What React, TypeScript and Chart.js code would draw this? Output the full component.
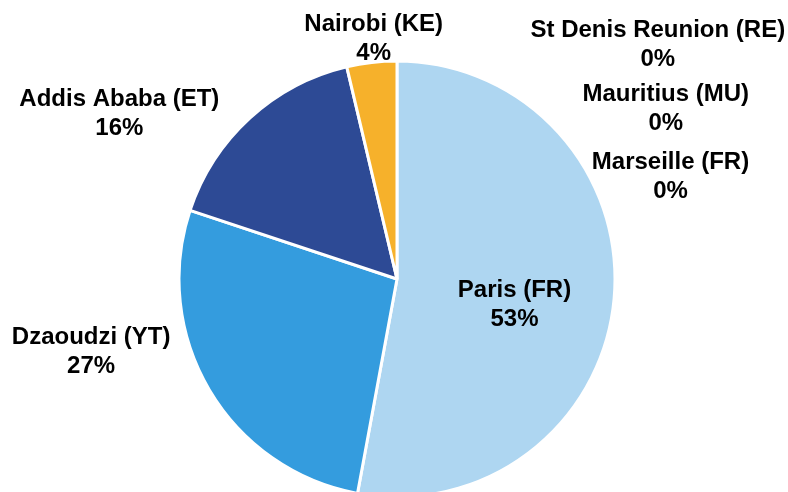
import React, { useEffect, useRef } from "react";
import { Chart, registerables } from "chart.js";

Chart.register(...registerables);

const categories = [
  "Paris (FR)",
  "Dzaoudzi (YT)",
  "Addis Ababa (ET)",
  "Nairobi (KE)",
  "St Denis Reunion (RE)",
  "Mauritius (MU)",
  "Marseille (FR)",
];
const shares = [52.9, 27.2, 16.2, 3.7, 0, 0, 0];
const sliceColors = ["#AED6F1", "#349CDE", "#2D4A95", "#F6B12B", "#8E8E8E", "#5E5E5E", "#3E3E3E"];

// label placement: angle (deg, clockwise from top) and distance as a fraction of the pie radius
const labelAngles = [101.6, 257, 301, 354.5, 47.8, 57.3, 69.1];
const labelDistances = [0.55, 1.44, 1.486, 1.115, 1.615, 1.465, 1.343];

const FONT = 'bold 24px "Liberation Sans", Arial, sans-serif';
const LINE_H = 29;
const TEXT_NUDGE = 2;

const labelPlugin = {
  id: "sliceLabels",
  afterDatasetsDraw(chart: any) {
    const meta = chart.getDatasetMeta(0);
    if (!meta || !meta.data.length) return;
    const arc0 = meta.data[0];
    const cx = arc0.x;
    const cy = arc0.y;
    const r = arc0.outerRadius;
    const values: number[] = chart.data.datasets[0].data;
    const total = values.reduce((a, b) => a + b, 0);
    const ctx = chart.ctx;
    ctx.save();
    ctx.font = FONT;
    ctx.fillStyle = "#000000";
    ctx.textAlign = "center";
    ctx.textBaseline = "middle";
    chart.data.labels.forEach((lab: string, i: number) => {
      const a = (labelAngles[i] * Math.PI) / 180;
      const d = labelDistances[i] * r;
      const x = cx + d * Math.sin(a);
      const y = cy - d * Math.cos(a) + TEXT_NUDGE;
      const pct = Math.round((values[i] / total) * 100) + "%";
      ctx.fillText(lab, x, y - LINE_H / 2);
      ctx.fillText(pct, x, y + LINE_H / 2);
    });
    ctx.restore();
  },
};

export default function App() {
  const ref = useRef<HTMLCanvasElement>(null);
  useEffect(() => {
    if (!ref.current) return;
    const chart = new Chart(ref.current, {
      type: "pie",
      data: {
        labels: categories,
        datasets: [
          {
            data: shares,
            backgroundColor: sliceColors,
            borderColor: "#FFFFFF",
            borderWidth: 3,
            radius: 218,
            clip: false,
          } as any,
        ],
      },
      options: {
        animation: false,
        responsive: true,
        maintainAspectRatio: false,
        layout: { padding: { left: 6, right: 0, top: 66, bottom: 0 } },
        plugins: {
          legend: { display: false },
          tooltip: { enabled: false },
          title: { display: false },
        },
      },
      plugins: [labelPlugin],
    });
    return () => chart.destroy();
  }, []);
  return (
    <div style={{ position: "fixed", left: 0, top: 0, width: 788, height: 492, background: "#FFFFFF" }}>
      <canvas ref={ref} />
    </div>
  );
}
